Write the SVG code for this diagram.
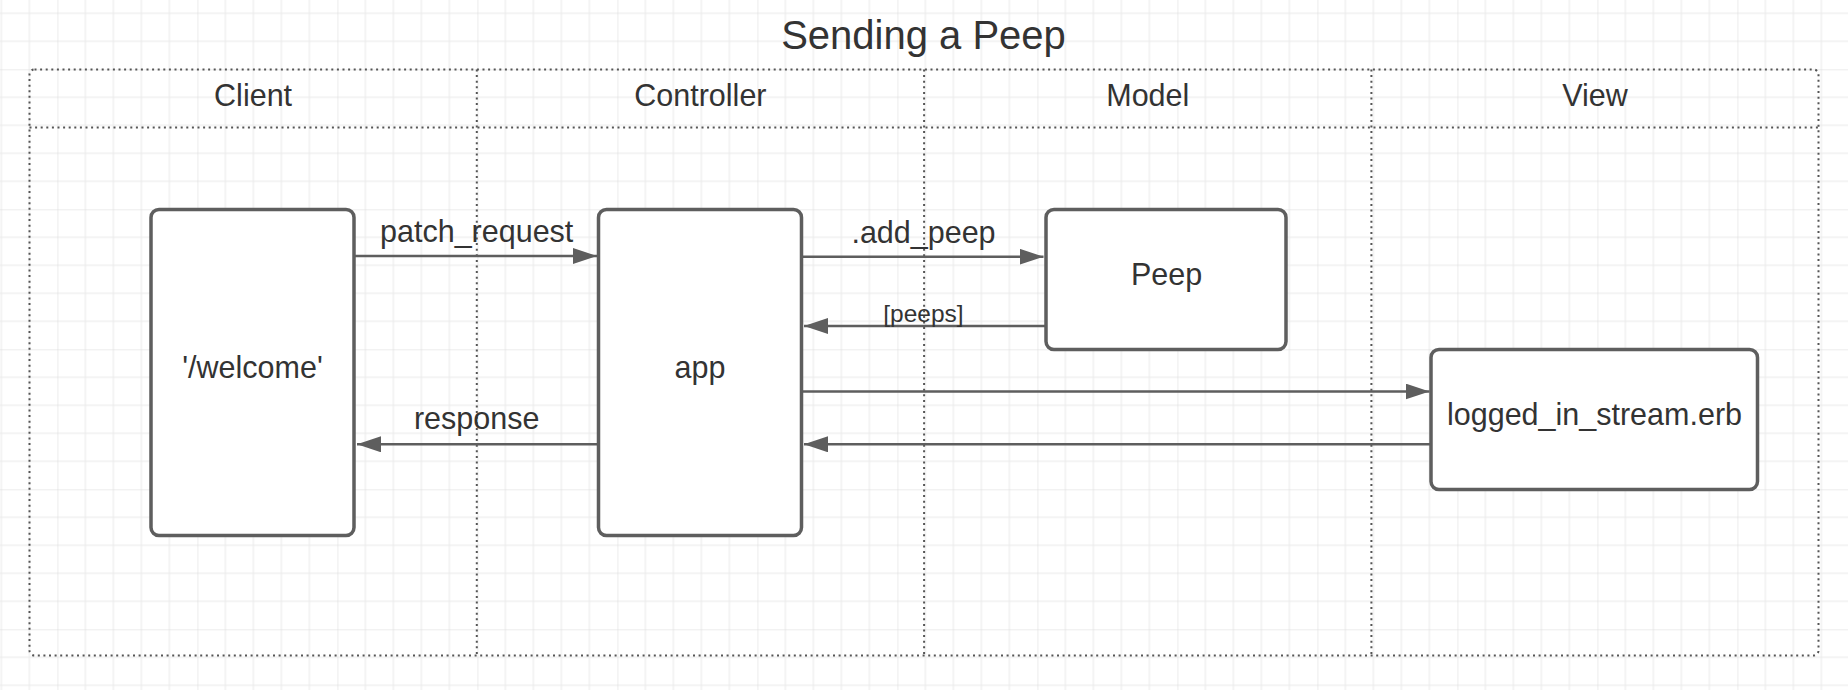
<svg xmlns="http://www.w3.org/2000/svg" width="1848" height="690" viewBox="0 0 1848 690">
  <style>
    text { font-family: "Liberation Sans", Arial, sans-serif; fill: #333333; text-anchor: middle; }
    .title { font-size: 40px; }
    .hdr { font-size: 30.5px; }
    .lbl { font-size: 30.5px; }
    .node rect { fill: #ffffff; stroke: #5e5e5e; stroke-width: 3.5; }
    .lane { fill: none; stroke: #555555; stroke-width: 2; stroke-dasharray: 2 3.6; }
    .conn { fill: none; stroke: #5e5e5e; stroke-width: 2.5; }
  </style>
  <defs>
    <pattern id="grid" patternUnits="userSpaceOnUse" x="57.4" y="69.3" width="140" height="140">
      <path d="M28 0V140M56 0V140M84 0V140M112 0V140M0 28H140M0 56H140M0 84H140M0 112H140" stroke="#e9e9e9" stroke-width="1" fill="none"/>
      <path d="M0 0V140M0 0H140" stroke="#d9d9d9" stroke-width="1" fill="none"/>
    </pattern>
    <marker id="arrow" markerUnits="userSpaceOnUse" markerWidth="26" markerHeight="18" refX="24" refY="8" orient="auto">
      <path d="M0 0L24 8L0 16Z" fill="#5e5e5e"/>
    </marker>
  </defs>

  <rect x="0" y="0" width="1848" height="690" fill="#ffffff"/>
  <rect x="0" y="0" width="1848" height="690" fill="url(#grid)"/>

  <g id="title">
    <text class="title" x="923.5" y="48.5">Sending a Peep</text>
  </g>

  <g id="swimlanes">
    <rect class="lane" x="29.5" y="69.5" width="1789" height="586" rx="5"/>
    <line class="lane" x1="29.5" y1="127.5" x2="1818.5" y2="127.5"/>
    <line class="lane" x1="476.8" y1="69.5" x2="476.8" y2="655.5"/>
    <line class="lane" x1="924.1" y1="69.5" x2="924.1" y2="655.5"/>
    <line class="lane" x1="1371.4" y1="69.5" x2="1371.4" y2="655.5"/>
    <text class="hdr" x="253.1" y="106">Client</text>
    <text class="hdr" x="700.4" y="106">Controller</text>
    <text class="hdr" x="1147.8" y="106">Model</text>
    <text class="hdr" x="1595" y="106">View</text>
  </g>

  <g id="connectors">
    <path class="conn" d="M354 256H597" marker-end="url(#arrow)"/>
    <path class="conn" d="M598.5 444.3H357" marker-end="url(#arrow)"/>
    <path class="conn" d="M801.5 256.7H1043.5" marker-end="url(#arrow)"/>
    <path class="conn" d="M1046 326H804" marker-end="url(#arrow)"/>
    <path class="conn" d="M801.5 391.5H1429.5" marker-end="url(#arrow)"/>
    <path class="conn" d="M1431 444.3H804" marker-end="url(#arrow)"/>
    <text x="476.7" y="241.5" style="font-size:30.5px">patch_request</text>
    <text x="476.7" y="429" style="font-size:30.5px">response</text>
    <text x="923.5" y="243.3" style="font-size:30.5px">.add_peep</text>
    <text x="923.5" y="322" style="font-size:24.5px">[peeps]</text>
  </g>

  <g id="node-welcome" class="node">
    <rect x="151" y="209.5" width="203" height="326" rx="8"/>
    <text class="lbl" x="252.5" y="378.3">'/welcome'</text>
  </g>

  <g id="node-app" class="node">
    <rect x="598.5" y="209.5" width="203" height="326" rx="8"/>
    <text class="lbl" x="700" y="378.3">app</text>
  </g>

  <g id="node-peep" class="node">
    <rect x="1046" y="209.5" width="240" height="140" rx="8"/>
    <text class="lbl" x="1166.5" y="285">Peep</text>
  </g>

  <g id="node-erb" class="node">
    <rect x="1431" y="349.5" width="326.5" height="140" rx="8"/>
    <text class="lbl" x="1594.5" y="425">logged_in_stream.erb</text>
  </g>
</svg>
